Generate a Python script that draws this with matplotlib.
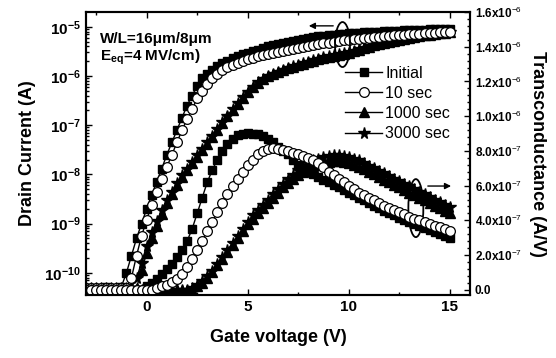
import numpy as np
import matplotlib
matplotlib.use('Agg')
import matplotlib.pyplot as plt
from matplotlib.patches import Ellipse
from matplotlib.ticker import FixedLocator, FixedFormatter, MultipleLocator, LogLocator, NullFormatter

plt.rcParams['font.family'] = ['Liberation Sans', 'DejaVu Sans']
plt.rcParams['mathtext.fontset'] = 'custom'
plt.rcParams['mathtext.rm'] = 'Liberation Sans'
plt.rcParams['mathtext.bf'] = 'Liberation Sans:bold'

# gate voltage sweep, -3 V .. 15 V in 0.25 V steps
vg = np.arange(-3.0, 15.01, 0.25)

# log10 of drain current (A)
log_id_initial = [-10.3, -10.3, -10.31, -10.3, -10.29, -10.3, -10.3, -10.28,
                  -10.0, -9.65, -9.3, -9.0,
                  -8.7, -8.42, -8.15, -7.88, -7.6, -7.35, -7.1, -6.85,
                  -6.6, -6.4, -6.2, -6.05, -5.95, -5.87, -5.8, -5.74,
                  -5.69, -5.64, -5.6, -5.56, -5.53, -5.5, -5.47, -5.43,
                  -5.4, -5.37, -5.35, -5.32, -5.3, -5.28, -5.26, -5.24,
                  -5.22, -5.21, -5.19, -5.18, -5.17, -5.16, -5.15, -5.14,
                  -5.13, -5.125, -5.12, -5.115, -5.11, -5.105, -5.1, -5.095,
                  -5.09, -5.085, -5.08, -5.075, -5.07, -5.066, -5.062, -5.058,
                  -5.055, -5.052, -5.049, -5.046, -5.043]
log_id_10s = [-10.3, -10.3, -10.3, -10.3, -10.3, -10.3, -10.3, -10.3, -10.3,
              -10.1, -9.65, -9.25,
              -8.92, -8.62, -8.35, -8.1, -7.85, -7.6, -7.35, -7.1,
              -6.88, -6.68, -6.45, -6.3, -6.16, -6.04, -5.95, -5.88,
              -5.82, -5.77, -5.73, -5.69, -5.66, -5.63, -5.6, -5.58,
              -5.56, -5.54, -5.52, -5.5, -5.48, -5.46, -5.43, -5.41,
              -5.39, -5.37, -5.355, -5.34, -5.32, -5.305, -5.29, -5.275,
              -5.26, -5.25, -5.24, -5.23, -5.22, -5.21, -5.2, -5.19,
              -5.18, -5.172, -5.165, -5.158, -5.15, -5.144, -5.138, -5.132,
              -5.126, -5.12, -5.115, -5.11, -5.105]
log_id_1000s = [-10.3, -10.3, -10.3, -10.3, -10.3, -10.3, -10.3, -10.3, -10.3, -10.3, -10.3,
                -9.95,
                -9.6, -9.3, -9.05, -8.8, -8.58, -8.4, -8.22, -8.06,
                -7.91, -7.77, -7.64, -7.51, -7.38, -7.24, -7.1, -6.96,
                -6.82, -6.69, -6.56, -6.44, -6.33, -6.23, -6.14, -6.07,
                -6.01, -5.96, -5.92, -5.88, -5.84, -5.81, -5.78, -5.75,
                -5.72, -5.69, -5.66, -5.63, -5.61, -5.59, -5.57, -5.55,
                -5.53, -5.5, -5.47, -5.44, -5.41, -5.38, -5.36, -5.33,
                -5.31, -5.29, -5.27, -5.25, -5.23, -5.21, -5.19, -5.17,
                -5.16, -5.14, -5.13, -5.12, -5.11]
log_id_3000s = [-10.3, -10.3, -10.3, -10.3, -10.3, -10.3, -10.3, -10.3, -10.3, -10.3,
                -10.1, -9.8,
                -9.45, -9.18, -8.95, -8.72, -8.52, -8.35, -8.18, -8.02,
                -7.88, -7.74, -7.61, -7.48, -7.35, -7.21, -7.07, -6.94,
                -6.81, -6.68, -6.55, -6.43, -6.32, -6.22, -6.13, -6.06,
                -6.0, -5.95, -5.91, -5.87, -5.83, -5.8, -5.77, -5.74,
                -5.71, -5.68, -5.65, -5.62, -5.6, -5.58, -5.56, -5.54,
                -5.52, -5.49, -5.46, -5.43, -5.4, -5.37, -5.35, -5.32,
                -5.3, -5.28, -5.26, -5.24, -5.22, -5.2, -5.18, -5.16,
                -5.15, -5.13, -5.12, -5.11, -5.1]

# transconductance (x1e-6 A/V)
gm_initial = [0.0] * 12 + [
    0.02, 0.04, 0.06, 0.09, 0.12, 0.15, 0.19, 0.23,
    0.28, 0.35, 0.44, 0.53, 0.62, 0.69, 0.75, 0.8,
    0.84, 0.87, 0.89, 0.9, 0.905, 0.9, 0.895, 0.885,
    0.87, 0.85, 0.82, 0.8, 0.78, 0.75, 0.72, 0.7,
    0.68, 0.665, 0.65, 0.635, 0.62, 0.605, 0.59, 0.575,
    0.56, 0.545, 0.53, 0.515, 0.5, 0.485, 0.47, 0.455,
    0.44, 0.428, 0.416, 0.404, 0.392, 0.38, 0.368, 0.356,
    0.344, 0.333, 0.322, 0.311, 0.3]
gm_10s = [0.0] * 14 + [
    0.01, 0.02,
    0.03, 0.045, 0.06, 0.09, 0.13, 0.18, 0.23, 0.28,
    0.34, 0.39, 0.45, 0.5, 0.55, 0.6, 0.64, 0.68,
    0.72, 0.75, 0.78, 0.8, 0.81, 0.815, 0.81, 0.805,
    0.8, 0.79, 0.78, 0.77, 0.76, 0.745, 0.73, 0.705,
    0.68, 0.66, 0.64, 0.62, 0.6, 0.58, 0.56, 0.545,
    0.53, 0.515, 0.5, 0.485, 0.47, 0.46, 0.45, 0.435,
    0.42, 0.41, 0.4, 0.39, 0.38, 0.37, 0.36, 0.35, 0.34]
gm_1000s = [0.0] * 22 + [
    0.02, 0.04,
    0.07, 0.1, 0.14, 0.18, 0.22, 0.26, 0.3, 0.34,
    0.38, 0.41, 0.44, 0.47, 0.5, 0.53, 0.56, 0.59,
    0.615, 0.64, 0.66, 0.68, 0.695, 0.71, 0.72, 0.73,
    0.735, 0.74, 0.74, 0.735, 0.73, 0.72, 0.71, 0.695,
    0.68, 0.665, 0.65, 0.635, 0.62, 0.605, 0.59, 0.575,
    0.56, 0.545, 0.53, 0.515, 0.5, 0.485, 0.47, 0.455, 0.44]
gm_3000s = [0.0] * 21 + [
    0.01, 0.03, 0.05,
    0.08, 0.11, 0.15, 0.19, 0.23, 0.27, 0.31, 0.35,
    0.39, 0.43, 0.46, 0.49, 0.52, 0.55, 0.58, 0.61,
    0.64, 0.66, 0.69, 0.71, 0.73, 0.745, 0.755, 0.765,
    0.77, 0.775, 0.775, 0.77, 0.765, 0.755, 0.745, 0.73,
    0.715, 0.7, 0.685, 0.67, 0.655, 0.64, 0.625, 0.61,
    0.595, 0.58, 0.565, 0.55, 0.535, 0.52, 0.505, 0.49, 0.475]

labels = ['Initial', '10 sec', '1000 sec', '3000 sec']

fig = plt.figure(figsize=(5.56, 3.58), dpi=100)
ax = fig.add_axes([0.1547, 0.176, 0.6906, 0.7905])
ax2 = ax.twinx()

styles = [dict(marker='s', ms=6.3, mfc='black', mec='black'),
          dict(marker='o', ms=7.0, mfc='white', mec='black', mew=0.9),
          dict(marker='^', ms=7.0, mfc='black', mec='black'),
          dict(marker='*', ms=8.5, mfc='black', mec='black')]
ids = [log_id_initial, log_id_10s, log_id_1000s, log_id_3000s]
gms = [gm_initial, gm_10s, gm_1000s, gm_3000s]
order = [0, 2, 3, 1]

handles = [None] * 4
for k in order:
    h, = ax.plot(vg, 10 ** np.array(ids[k]), '-', color='black', lw=1, label=labels[k], **styles[k])
    handles[k] = h
    ax2.plot(vg, np.array(gms[k]) * 1e-6, '-', color='black', lw=1, **styles[k])

# left axis
ax.set_yscale('log')
ax.set_xlim(-3, 16)
ax.set_ylim(10 ** -10.45, 10 ** -4.7)
ax.xaxis.set_major_locator(FixedLocator([0, 5, 10, 15]))
ax.xaxis.set_minor_locator(MultipleLocator(2.5))
ax.yaxis.set_major_locator(FixedLocator([1e-10, 1e-9, 1e-8, 1e-7, 1e-6, 1e-5]))
ax.yaxis.set_major_formatter(FixedFormatter([r'$\mathbf{10^{-10}}$', r'$\mathbf{10^{-9}}$', r'$\mathbf{10^{-8}}$',
                                             r'$\mathbf{10^{-7}}$', r'$\mathbf{10^{-6}}$', r'$\mathbf{10^{-5}}$']))
ax.yaxis.set_minor_locator(LogLocator(base=10, subs=np.arange(2, 10), numticks=20))
ax.yaxis.set_minor_formatter(NullFormatter())
ax.tick_params(axis='both', which='both', direction='in', width=1, top=True)
ax.tick_params(axis='both', which='major', length=4, labelsize=11)
ax.tick_params(axis='both', which='minor', length=2)
for t in ax.get_xticklabels():
    t.set_fontweight('bold')

# right axis
ax2.set_ylim(-0.03e-6, 1.6e-6)
rt = [0.0, 0.2e-6, 0.4e-6, 0.6e-6, 0.8e-6, 1.0e-6, 1.2e-6, 1.4e-6, 1.6e-6]
rl = ['0.0', '2.0x10$^{-7}$', '4.0x10$^{-7}$', '6.0x10$^{-7}$', '8.0x10$^{-7}$',
      '1.0x10$^{-6}$', '1.2x10$^{-6}$', '1.4x10$^{-6}$', '1.6x10$^{-6}$']
ax2.yaxis.set_major_locator(FixedLocator(rt))
ax2.yaxis.set_major_formatter(FixedFormatter(rl))
ax2.yaxis.set_minor_locator(MultipleLocator(0.04e-6))
ax2.tick_params(axis='y', which='both', direction='in', width=1)
ax2.tick_params(axis='y', which='major', length=4, labelsize=8.5)
ax2.tick_params(axis='y', which='minor', length=2)
for t in ax2.get_yticklabels():
    t.set_fontweight('bold')

for a in (ax, ax2):
    for s in a.spines.values():
        s.set_linewidth(1.5)

ax.set_xlabel('Gate voltage (V)', fontsize=13, fontweight='bold', labelpad=11)
ax.set_ylabel('Drain Current (A)', fontsize=13, fontweight='bold', labelpad=6)
ax2.set_ylabel('Transconductance (A/V)', fontsize=13, fontweight='bold', rotation=270, labelpad=17)

ax2.text(0.036, 0.905, 'W/L=16\u03bcm/8\u03bcm', transform=ax2.transAxes, fontsize=11, fontweight='bold',
         ha='left', va='center')
ax2.text(0.036, 0.84, r'E$_{\mathbf{eq}}$=4 MV/cm)', transform=ax2.transAxes, fontsize=11, fontweight='bold',
         ha='left', va='center')

# ellipses + arrows marking which axis each curve family belongs to
ax2.add_patch(Ellipse((0.668, 0.885), 0.039, 0.159, transform=ax2.transAxes, fill=False, ec='black', lw=1.3))
ax2.annotate('', xy=(0.573, 0.951), xytext=(0.651, 0.951), xycoords='axes fraction',
             arrowprops=dict(arrowstyle='-|>', color='black', lw=1, mutation_scale=9))
ax2.add_patch(Ellipse((0.859, 0.307), 0.039, 0.205, transform=ax2.transAxes, fill=False, ec='black', lw=1.3))
ax2.annotate('', xy=(0.958, 0.385), xytext=(0.883, 0.385), xycoords='axes fraction',
             arrowprops=dict(arrowstyle='-|>', color='black', lw=1, mutation_scale=9))

leg = ax2.legend(handles=handles, labels=labels, loc='upper left', bbox_to_anchor=(0.675, 0.81),
                 frameon=False, fontsize=11.5, handlelength=2.3, handletextpad=0.2,
                 labelspacing=0.32, borderpad=0, borderaxespad=0)

fig.savefig('out.png', dpi=100)
